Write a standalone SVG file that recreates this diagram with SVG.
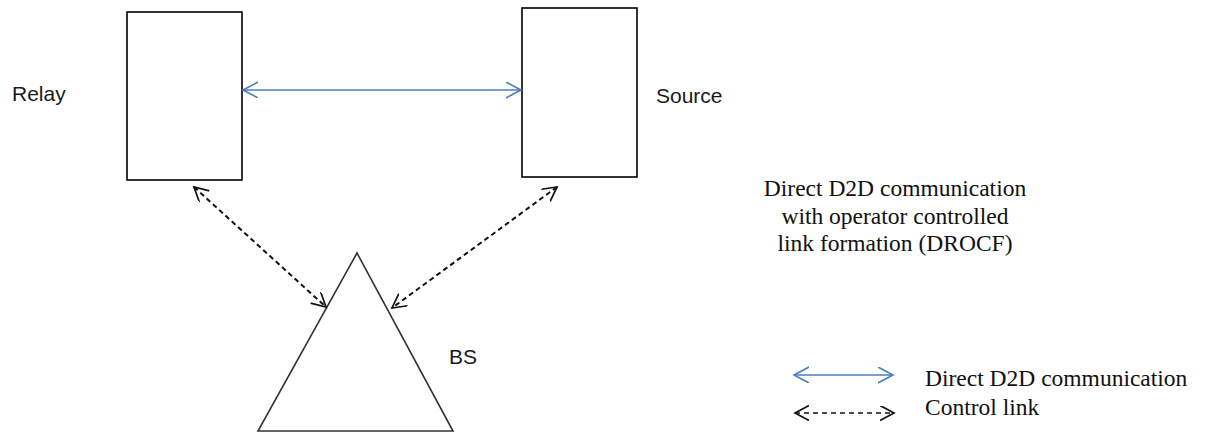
<svg xmlns="http://www.w3.org/2000/svg" width="1205" height="432" viewBox="0 0 1205 432">
<style>
.box{fill:#fff;stroke:#000;stroke-width:1.6}
.lbl{font-family:"Liberation Sans",Arial,sans-serif;font-size:21px;fill:#1a1a1a}
.ser{font-family:"Liberation Serif","Times New Roman",serif;font-size:23.5px;fill:#111}
.d2d{fill:none;stroke:#4a7ebb;stroke-width:1.6}
.ctl{fill:none;stroke:#111;stroke-width:2;stroke-dasharray:5,3.5}
.ctl2{fill:none;stroke:#111;stroke-width:1.4;stroke-dasharray:5,4}
</style>
<defs>
<marker id="ab" markerUnits="userSpaceOnUse" markerWidth="20" markerHeight="20" refX="15" refY="8" orient="auto-start-reverse" viewBox="0 0 20 20">
<path d="M0,0 L15,8 L0,16" fill="none" stroke="#4a7ebb" stroke-width="1.6"/>
</marker>
<marker id="ak" markerUnits="userSpaceOnUse" markerWidth="20" markerHeight="20" refX="14" refY="7.5" orient="auto-start-reverse" viewBox="0 0 20 20">
<path d="M0,0 L14,7.5 L0,15" fill="none" stroke="#111" stroke-width="1.7"/>
</marker>
</defs>
<g id="relay">
<rect class="box" x="127" y="12" width="115" height="168"/>
<text class="lbl" x="12" y="101" font-size="22.5">Relay</text>
</g>
<g id="source">
<rect class="box" x="522" y="8" width="115" height="169"/>
<text class="lbl" x="656" y="103">Source</text>
</g>
<g id="bs">
<path d="M357,253 L258,431 L453,431 Z" fill="#fff" stroke="#333" stroke-width="1.6"/>
<text class="lbl" x="449" y="364">BS</text>
</g>
<g id="caption">
<text class="ser" x="895" y="196" text-anchor="middle">Direct D2D communication</text>
<text class="ser" x="895" y="224" text-anchor="middle">with operator controlled</text>
<text class="ser" x="895" y="251" text-anchor="middle">link formation (DROCF)</text>
</g>
<g id="connectors">
<line class="d2d" x1="243" y1="90" x2="521" y2="90" marker-start="url(#ab)" marker-end="url(#ab)"/>
<line class="ctl" x1="194" y1="187" x2="326" y2="307" marker-start="url(#ak)" marker-end="url(#ak)"/>
<line class="ctl" x1="557" y1="187" x2="392" y2="308" marker-start="url(#ak)" marker-end="url(#ak)"/>
</g>
<g id="legend">
<line class="d2d" x1="794" y1="375" x2="893" y2="375" marker-start="url(#ab)" marker-end="url(#ab)"/>
<text class="ser" x="925" y="386" font-size="24.2">Direct D2D communication</text>
<line class="ctl2" x1="795" y1="413" x2="894" y2="413" marker-start="url(#ak)" marker-end="url(#ak)"/>
<text class="ser" x="925" y="415" font-size="24.2">Control link</text>
</g>
</svg>
